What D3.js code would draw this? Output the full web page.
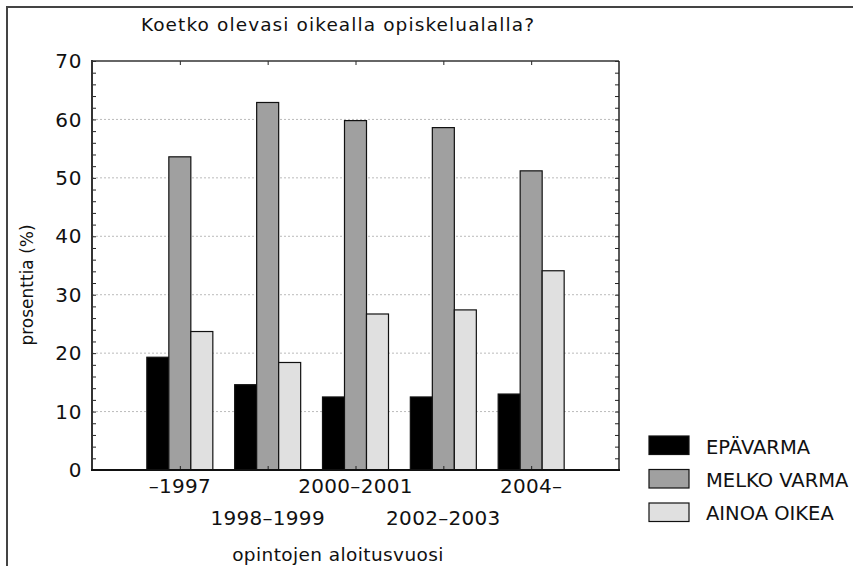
<!DOCTYPE html>
<html><head><meta charset="utf-8">
<script src="https://cdn.jsdelivr.net/npm/d3@7"></script>
<style>body{margin:0;background:#fff}svg{display:block}text{font-family:"DejaVu Sans",sans-serif;fill:#111}</style>
</head><body>
<script>
const categories = ["–1997","1998–1999","2000–2001","2002–2003","2004–"];
const seriesNames = ["EPÄVARMA","MELKO VARMA","AINOA OIKEA"];
const epavarma = [19.3,14.6,12.5,12.5,13.0];
const melkoVarma = [53.6,62.9,59.8,58.6,51.2];
const ainoaOikea = [23.7,18.4,26.7,27.4,34.1];
const yTicks = [0,10,20,30,40,50,60,70];
const colors = ["#000000","#a0a0a0","#e0e0e0"];
const series = [epavarma, melkoVarma, ainoaOikea];

const W=853,H=566;
const svg=d3.select("body").append("svg").attr("width",W).attr("height",H);
// outer frame
svg.append("rect").attr("x",7).attr("y",7).attr("width",900).attr("height",600)
  .attr("fill","none").attr("stroke","#444").attr("stroke-width",2);

const L=92,R=619,T=61,B=470;
const x=d3.scalePoint().domain(categories).range([L,R]).padding(1);
const y=d3.scaleLinear().domain([0,70]).range([B,T]);
const bw=22;

// grid
svg.append("g").selectAll("line").data(yTicks.filter(d=>d>0&&d<70)).join("line")
  .attr("x1",L).attr("x2",R).attr("y1",d=>y(d)).attr("y2",d=>y(d))
  .attr("stroke","#bbb").attr("stroke-width",1).attr("stroke-dasharray","2,2");

// bars
series.forEach((s,si)=>{
  svg.append("g").selectAll("rect").data(s).join("rect")
    .attr("x",(d,i)=>x(categories[i])-1.5*bw+si*bw)
    .attr("y",d=>y(d)).attr("width",bw).attr("height",d=>B-y(d))
    .attr("fill",colors[si]).attr("stroke","#111").attr("stroke-width",1.2);
});

// axes
const minor=d3.range(0,71,2);
const yl=svg.append("g").attr("transform",`translate(${L},0)`)
  .call(d3.axisRight(y).tickValues(minor).tickSize(4).tickFormat(""));
const yr=svg.append("g").attr("transform",`translate(${R},0)`)
  .call(d3.axisLeft(y).tickValues(minor).tickSize(4).tickFormat(""));
const xb=svg.append("g").attr("transform",`translate(0,${B})`)
  .call(d3.axisTop(x).tickSize(4).tickFormat(""));
const xt=svg.append("g").attr("transform",`translate(0,${T})`)
  .call(d3.axisBottom(x).tickSize(4).tickFormat(""));
[yl,yr,xb,xt].forEach(g=>{g.select(".domain").remove();g.selectAll("line").attr("stroke","#222");});

// frame
svg.append("line").attr("x1",L).attr("x2",R).attr("y1",T).attr("y2",T).attr("stroke","#333").attr("stroke-width",1.5);
svg.append("line").attr("x1",R).attr("x2",R).attr("y1",T).attr("y2",B).attr("stroke","#222").attr("stroke-width",1.5);
svg.append("line").attr("x1",L).attr("x2",L).attr("y1",T-1).attr("y2",B+1).attr("stroke","#333").attr("stroke-width",2);
svg.append("line").attr("x1",L-1).attr("x2",R+1).attr("y1",B).attr("y2",B).attr("stroke","#111").attr("stroke-width",2);

// y labels
svg.append("g").selectAll("text").data(yTicks).join("text")
  .attr("x",82).attr("y",d=>y(d)).attr("dy","0.36em").attr("text-anchor","end")
  .attr("font-size",20).attr("letter-spacing",0.6).text(d=>d);

// x labels
svg.append("g").selectAll("text").data(categories).join("text")
  .attr("x",d=>x(d)).attr("y",(d,i)=>i%2===0?493:525).attr("text-anchor","middle")
  .attr("font-size",20).attr("letter-spacing",0.3).text(d=>d);

// titles
svg.append("text").attr("x",338).attr("y",31).attr("text-anchor","middle").attr("font-size",18.5)
  .attr("letter-spacing",1.1).text("Koetko olevasi oikealla opiskelualalla?");
svg.append("text").attr("x",338).attr("y",561).attr("text-anchor","middle").attr("font-size",18.5)
  .attr("letter-spacing",0.4).text("opintojen aloitusvuosi");
svg.append("text").attr("transform","translate(33,285) rotate(-90)").attr("text-anchor","middle").attr("font-size",17)
  .text("prosenttia (%)");

// legend
const lg=svg.append("g");
seriesNames.forEach((n,i)=>{
  lg.append("rect").attr("x",649).attr("y",436+i*33.5).attr("width",40).attr("height",18.5)
    .attr("fill",colors[i]).attr("stroke","#111").attr("stroke-width",1.2);
  lg.append("text").attr("x",706).attr("y",454+i*33).attr("font-size",19.5).text(n);
});
</script>
</body></html>
